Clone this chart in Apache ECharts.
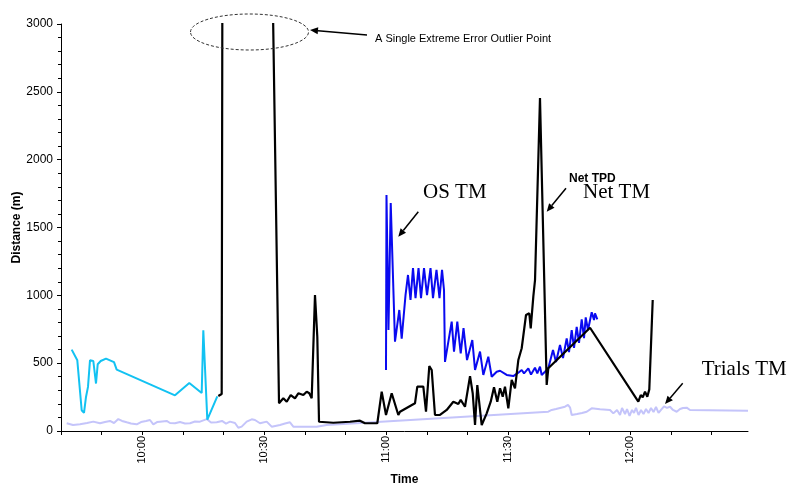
<!DOCTYPE html>
<html>
<head>
<meta charset="utf-8">
<script src="https://cdn.jsdelivr.net/npm/echarts@6/dist/echarts.min.js"></script>
<style>html,body{margin:0;padding:0;background:#fff;}#c{width:793px;height:488px;}</style>
</head>
<body>
<div id="c"></div>
<script>
// Time values are minutes after midnight (e.g. 600 = 10:00)
const cyanTime = [582.63,583.03,584.01,585.09,585.66,586.15,586.64,587.13,587.95,588.29,588.61,589.03,589.77,591.07,592.05,593.04,593.70,608.04,611.56,614.61,615.01,615.99,618.45];
const cyanDist = [600,612,521,153,133,251,325,521,516,516,350,492,516,534,521,507,453,263,354,280,743,84,256];

const netTime = [618.70,619.53,620.91,633.63,634.69,635.53,636.51,637.56,638.38,639.61,640.44,641.08,641.67,642.48,643.05,643.47,646.99,651.09,653.55,654.78,657.81,658.89,659.95,661.35,662.98,663.39,667.08,667.65,669.13,669.79,670.60,671.19,672.00,673.23,674.88,676.51,677.74,678.33,679.38,680.62,681.28,681.85,682.41,683.49,684.72,685.71,686.52,687.33,688.00,688.66,689.22,690.04,690.87,691.68,692.50,693.33,693.73,694.39,695.20,695.55,696.19,696.61,697.83,699.48,699.87,710.14,722.02,722.61,723.10,723.67,724.23,724.72,725.07,725.56];
const netDist = [258,273,25000,204,241,216,265,241,278,265,290,278,241,1002,695,68,61,68,76,57,57,290,118,278,118,142,204,327,327,142,479,450,118,118,155,216,199,229,179,405,278,44,339,44,130,216,322,216,315,253,327,167,376,315,523,610,610,855,868,757,990,1113,2455,339,462,761,216,265,248,290,253,307,314,966];

const osTime = [659.95,660.07,660.56,661.11,662.16,663.22,663.81,664.75,665.36,665.98,666.59,667.21,667.95,668.56,669.30,670.04,670.90,671.51,672.37,673.11,673.73,674.22,674.46,676.11,676.68,677.49,678.33,679.02,679.88,681.18,681.85,683.08,683.89,685.12,685.95,687.18,688.00,689.64,691.27,692.50,693.33,693.90,694.96,695.62,696.60,697.17,697.83,698.25,699.06,699.87,701.03,701.77,702.75,703.49,704.40,704.97,705.63,706.20,706.86,707.43,708.09,708.66,709.08,709.64,710.55,711.12,711.36,711.93];
const osDist = [450,1740,744,1680,658,892,681,1002,1150,966,1201,980,1201,980,1201,1002,1201,980,1187,980,1187,1039,509,806,585,806,572,759,523,670,450,585,413,548,400,437,444,413,405,430,450,425,461,416,467,425,474,413,437,462,597,509,634,538,683,582,744,612,768,649,823,685,838,744,875,818,867,823];

const trialsTime = [581.40,582.95,584.67,586.40,587.95,589.59,590.82,592.05,593.04,594.10,595.01,596.16,597.22,598.62,599.68,600.91,601.89,602.71,603.62,604.35,606.00,606.81,608.04,609.27,610.50,611.73,612.96,614.19,615.84,616.90,618.30,619.61,620.59,621.57,622.80,623.62,624.45,625.68,626.91,627.72,628.95,630.60,631.83,633.87,635.10,636.33,637.15,642.90,645.36,699.87,700.71,701.77,702.75,703.98,704.72,705.24,705.63,706.94,708.17,709.32,710.55,712.60,715.06,715.87,716.78,717.52,718.01,718.75,719.24,719.86,720.47,720.96,721.45,722.07,722.68,723.30,723.91,724.53,725.14,725.76,726.37,726.99,727.60,728.34,729.08,729.82,730.55,731.46,732.28,733.01,733.92,734.73,749.0];
const trialsDist = [57,44,49,59,69,57,66,74,59,88,74,64,55,49,66,74,81,49,66,69,74,59,57,66,55,57,70,69,88,63,64,74,55,69,59,24,32,69,86,81,57,69,32,44,55,64,32,32,44,142,155,162,170,179,192,172,118,125,133,142,167,160,155,130,155,118,170,125,162,111,155,133,170,118,155,125,162,133,170,140,177,133,155,181,170,179,155,142,162,170,172,155,150];

const xMin = 580, xMax = 749, xStep = 10;
const yMin = 0, yMax = 3000, yStep = 500;

function pairs(t, d) { return t.map((v, i) => [v, d[i]]); }
function fmtTime(v) {
  if (Math.abs(v % 30) > 1e-6) return '';
  const h = Math.floor(v / 60), m = Math.round(v % 60);
  return h + ':' + (m < 10 ? '0' : '') + m;
}

const SANS = '"Liberation Sans", Arial, sans-serif';
const SERIF = '"Liberation Serif", "Times New Roman", serif';

function arrow(x1, y1, x2, y2) {
  const a = Math.atan2(y2 - y1, x2 - x1);
  const L = 8, W = 3.5;
  const c = Math.cos(a), s = Math.sin(a);
  const bx = x2 - L * c, by = y2 - L * s;
  return [
    { type: 'line', shape: { x1: x1, y1: y1, x2: bx, y2: by }, style: { stroke: '#000', lineWidth: 1.5 } },
    { type: 'polygon', shape: { points: [[x2, y2], [bx - W * s, by + W * c], [bx + W * s, by - W * c]] }, style: { fill: '#000' } }
  ];
}

const chart = echarts.init(document.getElementById('c'), null, { renderer: 'canvas' });
const lineSeries = (name, t, d, color, w, z) => ({
  name: name, type: 'line', data: pairs(t, d), showSymbol: false, symbol: 'none',
  clip: true, z: z, lineStyle: { color: color, width: w }, itemStyle: { color: color }, animation: false
});

chart.setOption({
  animation: false,
  backgroundColor: '#fff',
  grid: { left: 61, top: 24, width: 687, height: 407, containLabel: false, outerBoundsMode: 'none' },
  xAxis: {
    type: 'value', min: xMin, max: xMax, interval: xStep,
    name: 'Time', nameLocation: 'middle', nameGap: 43, nameMoveOverlap: false,
    nameTextStyle: { fontFamily: SANS, fontWeight: 'bold', fontSize: 12, color: '#000' },
    axisLine: { show: true, lineStyle: { color: '#000', width: 1 } },
    axisTick: { show: true, length: 4, lineStyle: { color: '#000' } },
    axisLabel: { rotate: 90, margin: 5, fontFamily: SANS, fontSize: 11, color: '#000', formatter: fmtTime, showMaxLabel: false },
    splitLine: { show: false }
  },
  yAxis: {
    type: 'value', min: yMin, max: yMax, interval: yStep,
    name: 'Distance (m)', nameLocation: 'middle', nameGap: 38, nameRotate: 90, nameMoveOverlap: false,
    nameTextStyle: { fontFamily: SANS, fontWeight: 'bold', fontSize: 12, color: '#000' },
    axisLine: { show: true, lineStyle: { color: '#000', width: 1 } },
    axisTick: { show: true, length: 4, lineStyle: { color: '#000' } },
    minorTick: { show: true, splitNumber: 5, length: 3, lineStyle: { color: '#000' } },
    axisLabel: { fontFamily: SANS, fontSize: 12, color: '#000', margin: 8, formatter: v => String(v) },
    splitLine: { show: false }, minorSplitLine: { show: false }
  },
  series: [
    lineSeries('Trials TM', trialsTime, trialsDist, '#C4C4FA', 2, 1),
    lineSeries('Net TM (early)', cyanTime, cyanDist, '#12C2F2', 2, 2),
    lineSeries('OS TM', osTime, osDist, '#0A0AF0', 2, 3),
    lineSeries('Net TM', netTime, netDist, '#000000', 2.2, 4)
  ],
  graphic: [
    { type: 'ellipse', shape: { cx: 249.5, cy: 32, rx: 59, ry: 18 }, style: { fill: 'none', stroke: '#333', lineWidth: 1, lineDash: [3, 2] }, z: 100 },
    ...arrow(367, 35, 310, 30),
    { type: 'text', x: 375, y: 38.5, style: { text: 'A Single Extreme Error Outlier Point', font: '11px ' + SANS, fill: '#000', align: 'left', verticalAlign: 'middle' }, z: 100 },
    { type: 'text', x: 423, y: 192, style: { text: 'OS TM', font: '21px ' + SERIF, fill: '#000', align: 'left', verticalAlign: 'middle' }, z: 100 },
    ...arrow(418.3, 211.7, 398.3, 236.7),
    { type: 'text', x: 569, y: 178.5, style: { text: 'Net TPD', font: 'bold 12px ' + SANS, fill: '#000', align: 'left', verticalAlign: 'middle' }, z: 100 },
    ...arrow(566, 188.3, 546.7, 211.7),
    { type: 'text', x: 583, y: 192, style: { text: 'Net TM', font: '21px ' + SERIF, fill: '#000', align: 'left', verticalAlign: 'middle' }, z: 100 },
    { type: 'text', x: 701.7, y: 369, style: { text: 'Trials TM', font: '21px ' + SERIF, fill: '#000', align: 'left', verticalAlign: 'middle' }, z: 100 },
    ...arrow(682.7, 383.3, 665, 404)
  ]
});
</script>
</body>
</html>
